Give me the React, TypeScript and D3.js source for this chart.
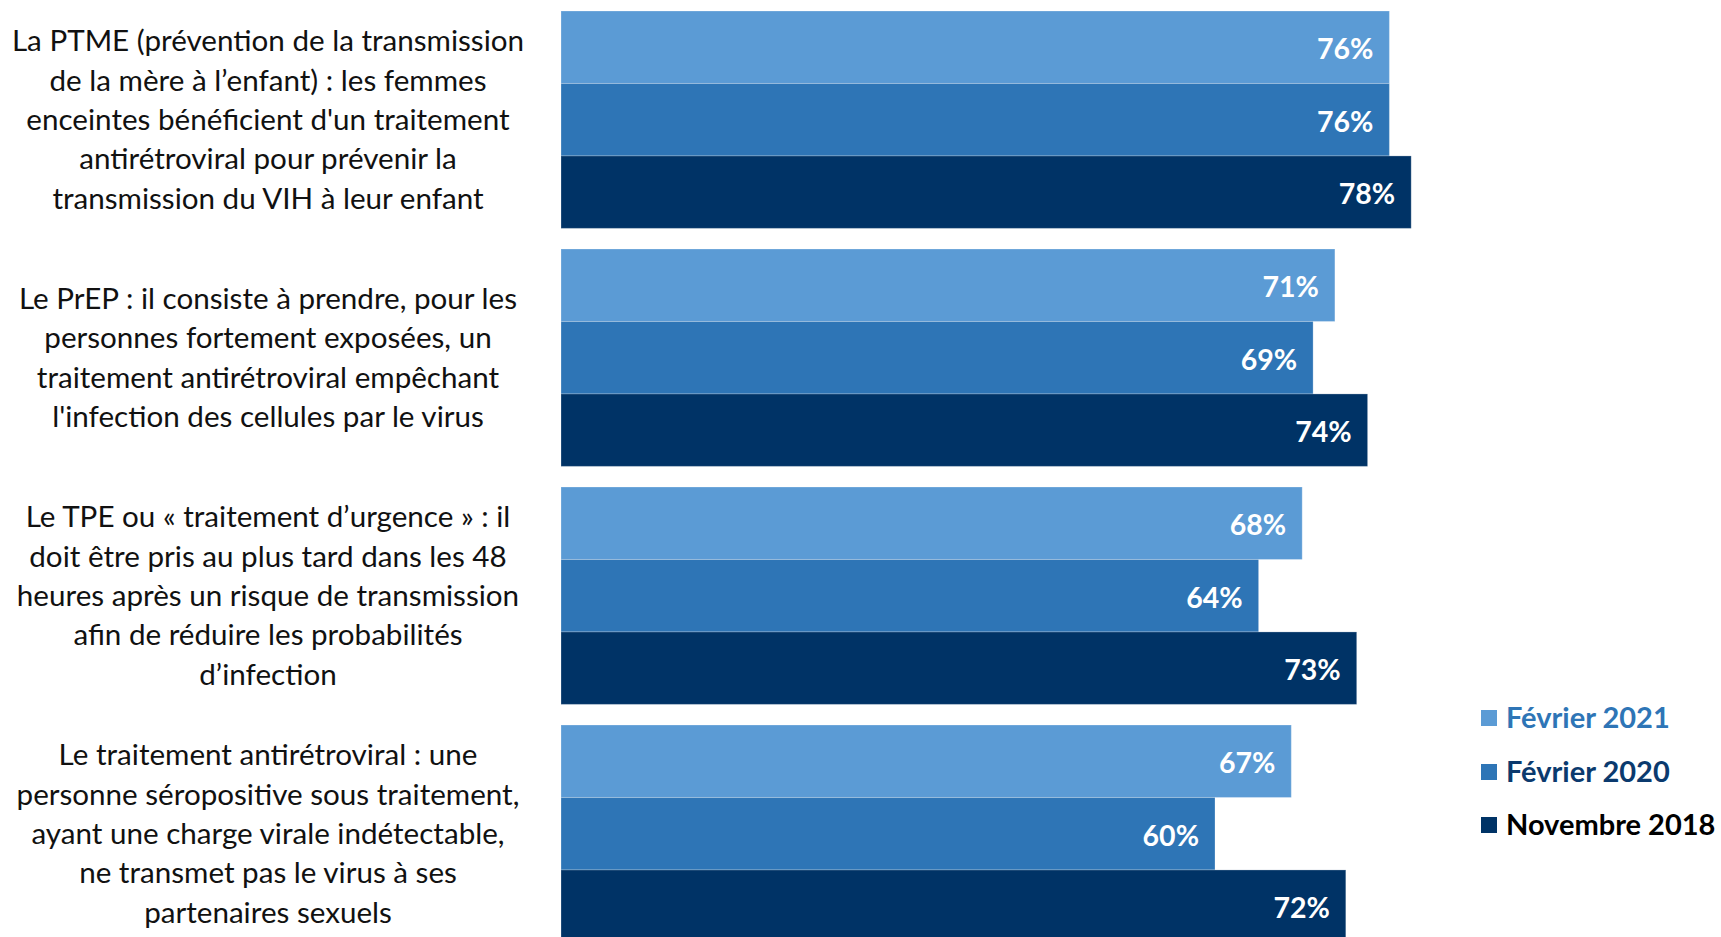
import * as d3 from 'd3'

const categories = ['ptme', 'prep', 'tpe', 'tar']

const categoryLabels: string[][] = [
  [
    'La PTME (prévention de la transmission',
    'de la mère à l’enfant) : les femmes',
    "enceintes bénéficient d'un traitement",
    'antirétroviral pour prévenir la',
    'transmission du VIH à leur enfant',
  ],
  [
    'Le PrEP : il consiste à prendre, pour les',
    'personnes fortement exposées, un',
    'traitement antirétroviral empêchant',
    "l'infection des cellules par le virus",
  ],
  [
    'Le TPE ou « traitement d’urgence » : il',
    'doit être pris au plus tard dans les 48',
    'heures après un risque de transmission',
    'afin de réduire les probabilités',
    'd’infection',
  ],
  [
    'Le traitement antirétroviral : une',
    'personne séropositive sous traitement,',
    'ayant une charge virale indétectable,',
    'ne transmet pas le virus à ses',
    'partenaires sexuels',
  ],
]

const seriesNames = ['Février 2021', 'Février 2020', 'Novembre 2018']
const values2021 = [76, 71, 68, 67]
const values2020 = [76, 69, 64, 60]
const values2018 = [78, 74, 73, 72]

const seriesColors = ['#5b9bd5', '#2e75b6', '#003366']
const legendTextColors = ['#2e75b6', '#0b3a6e', '#000000']

const W = 1721
const H = 937
const FONT = 'Lato, "Open Sans", sans-serif'

export default function App() {
  const allValues = [values2021, values2020, values2018]

  const x = d3.scaleLinear().domain([0, 100]).range([561, 561 + 1090])
  const y = d3
    .scaleBand<string>()
    .domain(categories)
    .range([11, 942.4])
    .paddingInner(0.0866)
    .paddingOuter(0)
  const ySeries = d3
    .scaleBand<string>()
    .domain(seriesNames)
    .range([0, y.bandwidth()])
    .padding(0)

  const lineH = 39.3
  const legendY = [718, 772, 825]

  return (
    <svg
      width={W}
      height={H}
      style={{ position: 'absolute', left: 0, top: 0, background: '#fff' }}
      fontFamily={FONT}
    >
      {categories.map((cat, ci) => {
        const y0 = y(cat) as number
        const mid = y0 + y.bandwidth() / 2
        const lines = categoryLabels[ci]
        return (
          <g key={cat}>
            {seriesNames.map((s, si) => {
              const v = allValues[si][ci]
              const by = y0 + (ySeries(s) as number)
              return (
                <g key={s}>
                  <rect
                    x={x(0)}
                    y={by}
                    width={x(v) - x(0)}
                    height={ySeries.bandwidth()}
                    fill={seriesColors[si]}
                    stroke="#ffffff"
                    strokeOpacity={0.25}
                    strokeWidth={1}
                  />
                  <text
                    x={x(v) - 16}
                    y={by + ySeries.bandwidth() / 2 + 2}
                    dy="0.35em"
                    textAnchor="end"
                    fill="#fff"
                    fontWeight="bold"
                    fontSize={28.5}
                  >
                    {v}%
                  </text>
                </g>
              )
            })}
            {lines.map((ln, li) => (
              <text
                key={li}
                x={268}
                y={mid + (li - (lines.length - 1) / 2) * lineH}
                dy="0.35em"
                textAnchor="middle"
                fontSize={29.6}
                fill="#111"
              >
                {ln}
              </text>
            ))}
          </g>
        )
      })}
      {seriesNames.map((s, si) => (
        <g key={s} transform={`translate(1481, ${legendY[si]})`}>
          <rect x={0} y={-8} width={16} height={16} fill={seriesColors[si]} />
          <text
            x={25}
            y={0}
            dy="0.35em"
            fontSize={29}
            fontWeight="bold"
            fill={legendTextColors[si]}
          >
            {s}
          </text>
        </g>
      ))}
    </svg>
  )
}
